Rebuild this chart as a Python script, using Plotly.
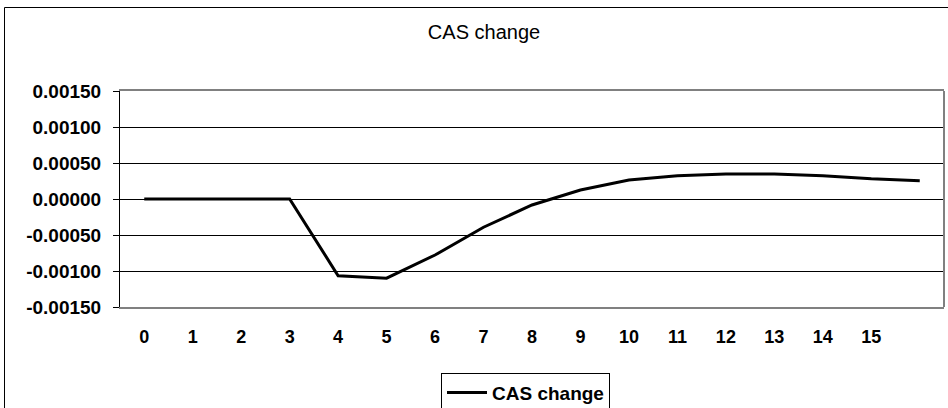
import plotly.graph_objects as go

# Quarterly periods after the shock (last period has no axis label)
periods = list(range(17))
period_labels = [str(p) for p in range(16)]

# Change in CAS per period
cas_change = [0.0, 0.0, 0.0, 0.0, -0.001065, -0.00110, -0.000778, -0.000392,
              -0.000083, 0.000125, 0.000264, 0.000322, 0.000347, 0.000347,
              0.000322, 0.000280, 0.000255]

y_ticks = [-0.0015, -0.001, -0.0005, 0.0, 0.0005, 0.001, 0.0015]
y_tick_labels = ["-0.00150", "-0.00100", "-0.00050", "0.00000",
                 "0.00050", "0.00100", "0.00150"]

FONT = "Liberation Sans, Arial, sans-serif"
W, H = 948, 408
L, R, T, B = 120, 4, 91, 101
PW, PH = W - L - R, H - T - B


def px_x(px):
    return (px - L) / PW


def px_y(py):
    return (H - B - py) / PH


fig = go.Figure()
fig.add_trace(go.Scatter(
    x=periods, y=cas_change, mode="lines", name="CAS change",
    line=dict(color="black", width=3),
))

fig.update_layout(
    width=W, height=H,
    margin=dict(l=L, r=R, t=T, b=B, autoexpand=False),
    paper_bgcolor="white", plot_bgcolor="white",
    title=dict(text="CAS change", x=484 / W, xanchor="center",
               y=1 - 32 / H, yanchor="middle",
               font=dict(family=FONT, size=20, color="black")),
    showlegend=True,
    legend=dict(x=px_x(441), xanchor="left", y=px_y(372.7), yanchor="top",
                bordercolor="black", borderwidth=1, bgcolor="white",
                font=dict(family=FONT, size=19, color="black", weight="bold"),
                itemwidth=40),
    font=dict(family=FONT, color="black"),
)

fig.update_xaxes(
    range=[-0.5, 16.5], tickmode="array", tickvals=periods[:16],
    ticktext=period_labels, showgrid=False, zeroline=False,
    showline=True, linecolor="#808080", linewidth=2, mirror=True,
    ticks="", ticklabelstandoff=12,
    tickfont=dict(family=FONT, size=18, color="black", weight="bold"),
)
fig.update_yaxes(
    range=[-0.0015, 0.0015], tickmode="array", tickvals=y_ticks,
    ticktext=y_tick_labels, showgrid=True, gridcolor="black", gridwidth=1,
    zeroline=True, zerolinecolor="black", zerolinewidth=1,
    showline=True, linecolor="black", linewidth=1,
    ticks="outside", ticklen=6, tickcolor="black", ticklabelstandoff=8,
    tickfont=dict(family=FONT, size=19, color="black", weight="bold"),
)

# Gray right edge of the plot area
fig.add_shape(type="line", xref="paper", yref="paper", x0=1, x1=1, y0=0, y1=1,
              line=dict(color="#808080", width=2))
# Outer chart frame
fig.add_shape(type="rect", xref="paper", yref="paper",
              x0=px_x(4.5), x1=1.2, y0=-0.8, y1=px_y(7.5),
              line=dict(color="black", width=1), layer="below")

fig.write_html("out.html")
